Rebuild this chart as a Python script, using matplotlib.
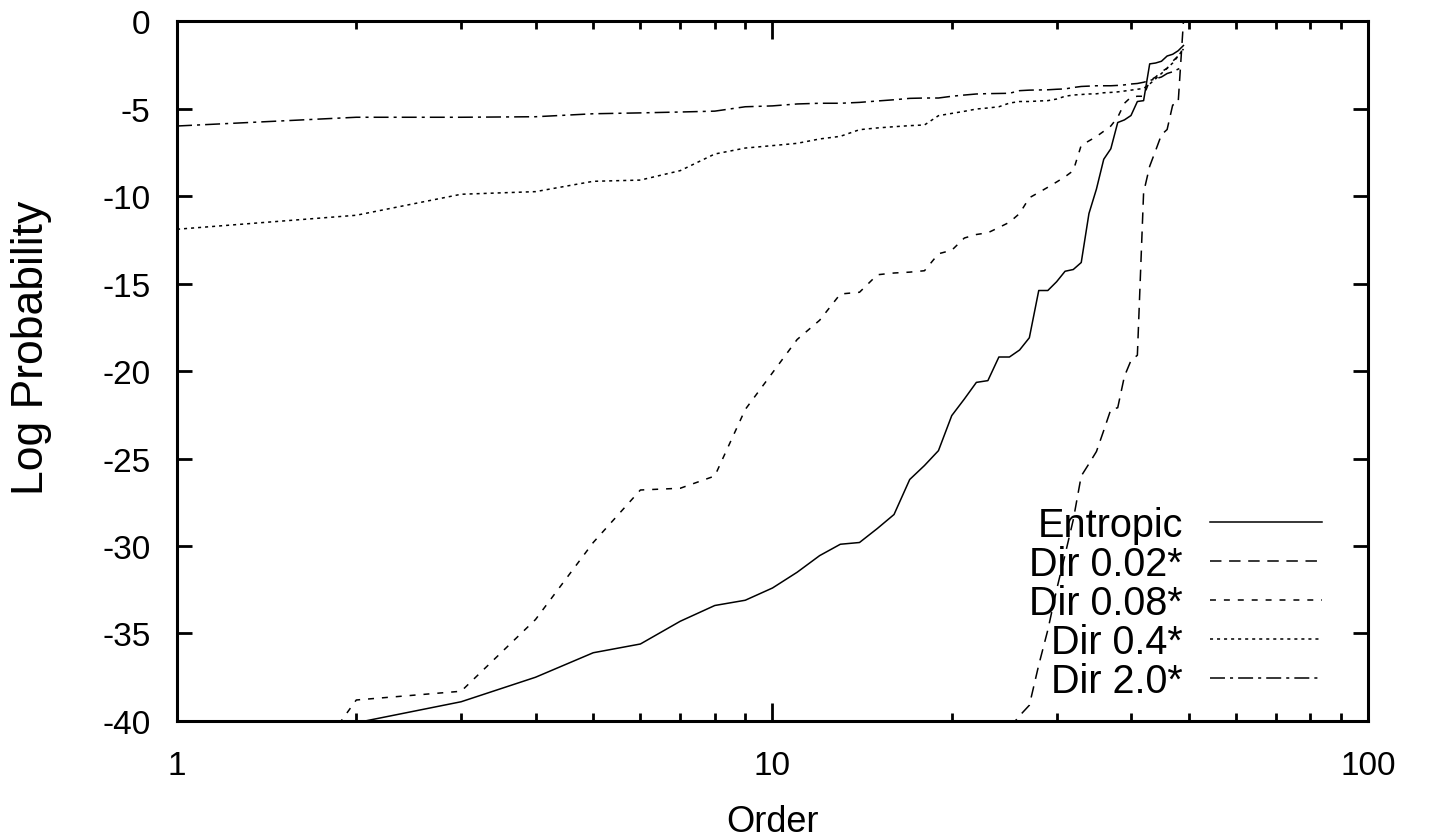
import numpy as np
import matplotlib
matplotlib.use("Agg")
import matplotlib.pyplot as plt

plt.rcParams['font.family'] = ['Liberation Sans', 'DejaVu Sans']

orders = list(range(1, 50))
nan = np.nan

entropic = [-48.0, -40.1, -38.9, -37.5, -36.1, -35.6, -34.3, -33.4, -33.1, -32.4,
            -31.5, -30.55, -29.9, -29.8, -29.0, -28.2, -26.2, -25.4, -24.55, -22.55,
            -21.6, -20.65, -20.55, -19.2, -19.2, -18.8, -18.1, -15.4, -15.4, -14.9,
            -14.3, -14.2, -13.8, -11.0, -9.6, -7.9, -7.3, -5.8, -5.65, -5.4,
            -4.6, -4.55, -2.45, -2.4, -2.3, -2.0, -1.9, -1.7, -1.4]
dir002 = [nan] * 24 + [-40.4, -39.7, -39.1, -36.8, -34.8, -32.5,
                       -30.5, -28.5, -26.0, -25.3, -24.6, -23.4, -22.2, -22.1, -20.3, -19.4,
                       -19.1, -9.8, -8.3, -7.4, -6.5, -6.2, -4.8, -4.7, 0.0]
dir008 = [-53.0, -38.8, -38.3, -34.2, -29.8, -26.8, -26.7, -26.0, -22.2, -20.1,
          -18.2, -17.1, -15.6, -15.5, -14.5, -14.4, -14.35, -14.27, -13.3, -13.1,
          -12.4, -12.2, -12.1, -11.8, -11.5, -11.0, -10.1, -9.8, -9.5, -9.2,
          -8.9, -8.55, -7.1, -6.85, -6.6, -6.3, -6.0, -5.5, -4.7, -4.35,
          -4.3, -4.3, -3.4, -3.2, -2.9, -2.7, -2.3, -2.0, -1.6]
dir04 = [-11.9, -11.1, -9.9, -9.75, -9.16, -9.09, -8.55, -7.6, -7.26, -7.12,
         -6.99, -6.74, -6.59, -6.21, -6.11, -6.04, -5.98, -5.94, -5.41, -5.28,
         -5.16, -5.03, -4.97, -4.9, -4.69, -4.6, -4.6, -4.57, -4.55, -4.46,
         -4.3, -4.23, -4.2, -4.17, -4.16, -4.1, -4.08, -4.05, -4.0, -3.95,
         -3.9, -3.85, -3.6, -3.3, -3.0, -2.7, -2.4, -2.0, -1.6]
dir20 = [-6.0, -5.5, -5.5, -5.47, -5.3, -5.25, -5.2, -5.15, -4.9, -4.85,
         -4.74, -4.7, -4.7, -4.65, -4.57, -4.5, -4.42, -4.4, -4.4, -4.3,
         -4.23, -4.17, -4.15, -4.14, -4.13, -3.98, -3.95, -3.94, -3.93, -3.9,
         -3.88, -3.8, -3.74, -3.72, -3.7, -3.7, -3.7, -3.68, -3.65, -3.6,
         -3.57, -3.5, -3.4, -3.3, -3.2, -3.0, -2.9, -2.75, -2.6]

labels = ["Entropic", "Dir 0.02*", "Dir 0.08*", "Dir 0.4*", "Dir 2.0*"]
series = [entropic, dir002, dir008, dir04, dir20]
dashes = [None, (7.5, 5.0), (3.9, 5.2), (2.0, 2.6), (9.8, 3.3, 2.0, 3.3)]

fig = plt.figure(figsize=(14.3, 8.37), dpi=100)
ax = fig.add_axes([0.1238, 0.1374, 0.8328, 0.8363])

for y, lab, d in zip(series, labels, dashes):
    line, = ax.plot(orders, y, color="black", linewidth=1.1, label=lab)
    if d is not None:
        line.set_dashes(d)

ax.set_xscale("log")
ax.set_xlim(1, 100)
ax.set_ylim(-40, 0)
ax.set_yticks(range(-40, 1, 5))
ax.set_xticks([1, 10, 100])
ax.set_xticklabels(["1", "10", "100"])
ax.set_yticklabels([str(v) for v in range(-40, 1, 5)])

for s in ax.spines.values():
    s.set_linewidth(2.2)
ax.tick_params(which="both", direction="in", top=True, right=True, width=2.0,
               labelsize=24)
ax.tick_params(axis="y", which="major", length=11, pad=19)
ax.tick_params(axis="x", which="major", length=13, pad=21)
ax.tick_params(axis="x", which="minor", length=6, labelbottom=False)

ax.set_xlabel("Order", fontsize=26)
ax.set_ylabel("Log Probability", fontsize=32)
ax.xaxis.set_label_coords(0.5, -0.118)
ax.yaxis.set_label_coords(-0.105, 0.534)

ax.legend(loc="lower right", bbox_to_anchor=(0.9614, 0.0295), frameon=False,
          markerfirst=False, fontsize=28.5, handlelength=2.84, handletextpad=0.68,
          labelspacing=0.03, borderpad=0, borderaxespad=0)

fig.savefig("out.png", dpi=100)
